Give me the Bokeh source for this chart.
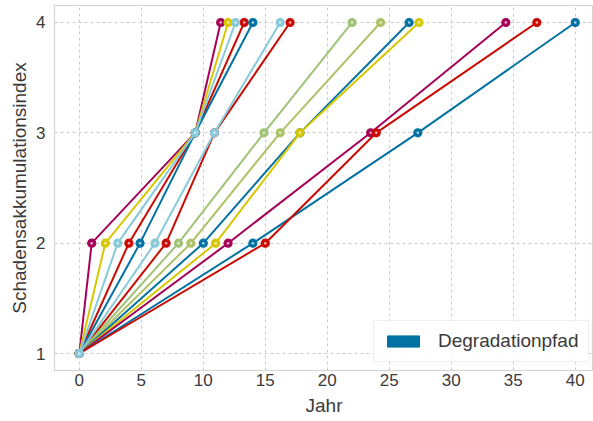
from bokeh.plotting import figure
from bokeh.models import Range1d, FixedTicker, Legend, LegendItem
from bokeh.embed import file_html
from bokeh.resources import INLINE

# Degradation paths: year at which each damage-accumulation index level is reached
schadensstufen = [1, 2, 3, 4]
jahr_stufe1 = [0.0] * 14
jahr_stufe2 = [1.0, 2.1, 4.0, 4.9, 7.0, 8.0, 9.0, 10.0, 11.0, 12.0, 14.0, 15.0, 3.1, 6.1]
jahr_stufe3 = [9.35, 9.35, 9.35, 9.35, 10.9, 14.9, 16.2, 17.8, 17.8, 23.5, 27.3, 23.95, 9.35, 10.9]
jahr_stufe4 = [11.4, 12.0, 13.3, 14.0, 17.0, 22.0, 24.3, 26.6, 27.4, 34.4, 40.0, 36.9, 12.6, 16.2]
pfad_farben = ["#a50258", "#d7c703", "#ca0b03", "#0272a2", "#ca0b03", "#9fc377", "#aec267",
               "#0272a2", "#d7c703", "#a50258", "#0272a2", "#ca0b03", "#88cada", "#88cada"]
x_ticks = [0, 5, 10, 15, 20, 25, 30, 35, 40]
y_ticks = [1, 2, 3, 4]
legend_label = "Degradationpfad"
legend_color = "#0272a2"

text_color = "#3a3a3a"
font = "Liberation Sans"

p = figure(width=593, height=421, output_backend="svg", toolbar_location=None,
           x_range=Range1d(-2.0, 41.47), y_range=Range1d(0.846, 4.154),
           min_border_left=54, min_border_right=0, min_border_top=5, min_border_bottom=51)

p.background_fill_color = "white"
p.border_fill_color = "white"
p.outline_line_color = "#d4d4d4"
p.outline_line_width = 1.2

for ax in (p.xaxis[0], p.yaxis[0]):
    ax.axis_line_color = None
    ax.major_tick_line_color = None
    ax.minor_tick_line_color = None
    ax.major_tick_out = 0
    ax.major_tick_in = 0
    ax.minor_tick_out = 0
    ax.minor_tick_in = 0
    ax.major_label_text_font = font
    ax.major_label_text_font_size = "17px"
    ax.major_label_text_color = text_color
    ax.axis_label_text_font = font
    ax.axis_label_text_font_size = "19px"
    ax.axis_label_text_font_style = "normal"
    ax.axis_label_text_color = text_color

p.xaxis.ticker = FixedTicker(ticks=x_ticks)
p.yaxis.ticker = FixedTicker(ticks=y_ticks)
p.xaxis.axis_label = "Jahr"
p.yaxis.axis_label = "Schadensakkumulationsindex"
p.xaxis.major_label_standoff = 3
p.xaxis.axis_label_standoff = 6
p.yaxis.major_label_standoff = 9
p.yaxis.axis_label_standoff = 3

p.grid.grid_line_color = "#cccccc"
p.grid.grid_line_dash = "3 3"
p.grid.grid_line_width = 1

for i, farbe in enumerate(pfad_farben):
    xs = [jahr_stufe1[i], jahr_stufe2[i], jahr_stufe3[i], jahr_stufe4[i]]
    p.line(xs, schadensstufen, line_color=farbe, line_width=2)
    p.scatter(xs, schadensstufen, size=8, marker="circle",
              fill_color=farbe, line_color=farbe, line_width=1.2)
    p.scatter(xs, schadensstufen, size=2.5, marker="circle",
              fill_color="white", fill_alpha=0.7, line_color=None)

# legend swatch: a patch kept outside the visible range
patch = p.quad(left=[-100], right=[-99], top=[-100], bottom=[-101],
               fill_color=legend_color, line_color=legend_color)
legend = Legend(items=[LegendItem(label=legend_label, renderers=[patch])],
                location=(319, 8))
legend.label_text_font = font
legend.label_text_font_size = "19px"
legend.label_text_color = text_color
legend.glyph_width = 40
legend.glyph_height = 14
legend.label_standoff = 15
legend.padding = 9
legend.margin = 0
legend.border_line_color = "#e0e0e0"
legend.background_fill_alpha = 0.85
p.add_layout(legend)

open("out.html", "w").write(file_html(p, INLINE))
